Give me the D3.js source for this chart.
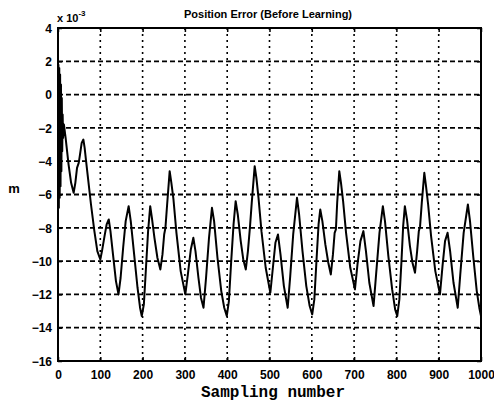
<!DOCTYPE html>
<html>
<head>
<meta charset="utf-8">
<script src="https://cdn.jsdelivr.net/npm/d3@7"></script>
<style>
  body { margin: 0; background: #fff; }
  svg { display: block; }
  .tick text { font-family: "Liberation Sans", Arial, sans-serif; font-weight: bold; font-size: 12px; fill: #000; }
</style>
</head>
<body>
<div id="chart"></div>
<script>
// sample index and position error (x 10^-3 m)
const sampleIdx = [
  0, 1, 2, 3, 4, 5, 6, 7, 8, 9, 10, 11, 12, 14, 18, 25, 31, 37, 41, 45, 49, 52, 56, 60, 63, 66, 70, 78, 86, 93,
  100, 104, 110, 115, 120, 124, 130, 137, 143, 148, 154, 160, 167, 172, 180, 188, 194, 198,
  203, 208, 213, 218, 222, 228, 235, 242, 247, 251, 254, 258, 264, 268, 273, 280, 290,
  301, 307, 314, 320, 325, 332, 338, 344, 350, 357, 364, 369, 377, 386, 393, 399,
  404, 409, 415, 420, 425, 432, 438, 444, 449, 454, 458, 465, 469, 474, 481, 491,
  502, 508, 514, 520, 526, 534, 543, 549, 556, 565, 570, 578, 587, 595, 601,
  606, 611, 616, 620, 625, 632, 639, 645, 650, 654, 657, 660, 665, 669, 674, 681, 691,
  702, 708, 715, 722, 728, 736, 746, 752, 760, 768, 773, 781, 790, 797, 802,
  807, 812, 816, 820, 825, 832, 838, 844, 849, 853, 856, 860, 866, 870, 875, 882, 892,
  903, 909, 915, 921, 927, 935, 945, 951, 959, 969, 974, 982, 990, 996, 1000
];
const errorVals = [
  0.5, 1.8, -6.8, 1.6, -6.2, 1.2, -5.5, 0.6, -4.6, -0.2, -3.4, -1.2, -2.6, -1.8, -2.6, -4.2, -5.3, -5.9, -5.3, -4.4, -4.1, -3.6, -2.9, -2.7, -3.2, -3.9, -4.8, -6.6, -8.2, -9.4,
  -9.9, -9.4, -8.5, -7.8, -7.5, -8.2, -9.6, -11.2, -12.0, -11.0, -9.2, -7.6, -6.7, -7.6, -9.6, -11.6, -12.8, -13.3,
  -12.6, -10.4, -8.2, -6.7, -7.4, -8.6, -9.8, -10.5, -9.6, -8.4, -8.0, -6.6, -4.6, -5.3, -6.3, -8.3, -10.6,
  -12.0, -10.8, -9.3, -8.6, -9.4, -11.0, -12.2, -12.8, -11.0, -8.6, -6.8, -7.6, -9.8, -11.8, -12.8, -13.3,
  -12.4, -10.2, -7.8, -6.4, -7.2, -8.8, -9.9, -10.5, -9.4, -7.9, -6.5, -4.3, -5.0, -6.2, -8.2, -10.4,
  -11.9, -10.4, -8.9, -8.4, -9.6, -11.5, -12.8, -10.9, -8.4, -6.2, -7.2, -9.4, -11.5, -12.7, -13.2,
  -12.3, -10.0, -7.8, -6.9, -7.6, -9.0, -10.1, -10.8, -9.6, -8.3, -8.1, -6.5, -4.6, -5.3, -6.4, -8.3, -10.4,
  -11.7, -10.2, -8.8, -8.2, -9.4, -11.3, -12.7, -10.8, -8.3, -6.7, -7.6, -9.7, -11.7, -12.9, -13.3,
  -12.3, -10.0, -7.9, -6.7, -7.5, -9.1, -10.1, -10.7, -9.4, -8.2, -7.9, -6.5, -4.7, -5.5, -6.6, -8.5, -10.6,
  -12.0, -10.3, -8.8, -8.3, -9.4, -11.3, -12.8, -10.8, -8.3, -6.6, -7.6, -9.8, -11.8, -12.8, -13.3
];
const xTicks = [0, 100, 200, 300, 400, 500, 600, 700, 800, 900, 1000];
const yTicks = [4, 2, 0, -2, -4, -6, -8, -10, -12, -14, -16];

const W = 494, H = 404;
const margin = { top: 28, right: 13, bottom: 43, left: 58 };
const iw = W - margin.left - margin.right;
const ih = H - margin.top - margin.bottom;

const svg = d3.select('#chart').append('svg')
  .attr('width', W)
  .attr('height', H);

svg.append('rect').attr('width', W).attr('height', H).attr('fill', '#fff');

const g = svg.append('g').attr('transform', `translate(${margin.left},${margin.top})`);

const x = d3.scaleLinear().domain([0, 1000]).range([0, iw]);
const y = d3.scaleLinear().domain([-16, 4]).range([ih, 0]);

// grid
g.append('g').selectAll('line')
  .data(yTicks.slice(1, -1))
  .enter().append('line')
  .attr('x1', 0).attr('x2', iw)
  .attr('y1', d => y(d)).attr('y2', d => y(d))
  .attr('stroke', '#000').attr('stroke-width', 1.8)
  .attr('stroke-dasharray', '5,3');

g.append('g').selectAll('line')
  .data(xTicks.slice(1, -1))
  .enter().append('line')
  .attr('x1', d => x(d)).attr('x2', d => x(d))
  .attr('y1', 0).attr('y2', ih)
  .attr('stroke', '#000').attr('stroke-width', 1.6)
  .attr('stroke-dasharray', '2,4');

// axes
const xAxis = g.append('g')
  .attr('transform', `translate(0,${ih})`)
  .call(d3.axisBottom(x).tickValues(xTicks).tickSize(-4).tickPadding(9).tickFormat(d3.format('d')));
const yAxis = g.append('g')
  .call(d3.axisLeft(y).tickValues(yTicks).tickSize(-4).tickPadding(6).tickFormat(d3.format('d')));
g.append('g')
  .attr('transform', `translate(${iw},0)`)
  .call(d3.axisRight(y).tickValues(yTicks).tickSize(-4).tickFormat(''));
g.append('g')
  .call(d3.axisTop(x).tickValues(xTicks).tickSize(-4).tickFormat(''));

g.selectAll('.domain').remove();
g.selectAll('.tick line').attr('stroke', '#000').attr('stroke-width', 1.5);
yAxis.selectAll('.tick text').attr('dy', '0.35em');

g.append('rect')
  .attr('width', iw).attr('height', ih)
  .attr('fill', 'none').attr('stroke', '#000').attr('stroke-width', 2);

// data line
const pts = sampleIdx.map((s, i) => [s, errorVals[i]]);
g.append('path')
  .datum(pts)
  .attr('fill', 'none')
  .attr('stroke', '#000')
  .attr('stroke-width', 2)
  .attr('stroke-linejoin', 'round')
  .attr('d', d3.line().x(d => x(d[0])).y(d => y(d[1])));

// texts
svg.append('text')
  .attr('x', 268).attr('y', 18)
  .attr('text-anchor', 'middle')
  .style('font-family', '"Liberation Sans", Arial, sans-serif')
  .style('font-weight', 'bold').style('font-size', '11px')
  .text('Position Error (Before Learning)');

const exp = svg.append('text')
  .attr('x', 57).attr('y', 22)
  .style('font-family', '"Liberation Sans", Arial, sans-serif')
  .style('font-weight', 'bold').style('font-size', '11px');
exp.append('tspan').text('x 10');
exp.append('tspan').attr('dy', -6).style('font-size', '8px').text('-3');

svg.append('text')
  .attr('x', 14).attr('y', 193)
  .attr('text-anchor', 'middle')
  .style('font-family', '"Liberation Sans", Arial, sans-serif')
  .style('font-weight', 'bold').style('font-size', '13px')
  .text('m');

svg.append('text')
  .attr('x', 273).attr('y', 397)
  .attr('text-anchor', 'middle')
  .style('font-family', '"Liberation Mono", "Courier New", monospace')
  .style('font-weight', 'bold').style('font-size', '16px')
  .text('Sampling number');
</script>
</body>
</html>
